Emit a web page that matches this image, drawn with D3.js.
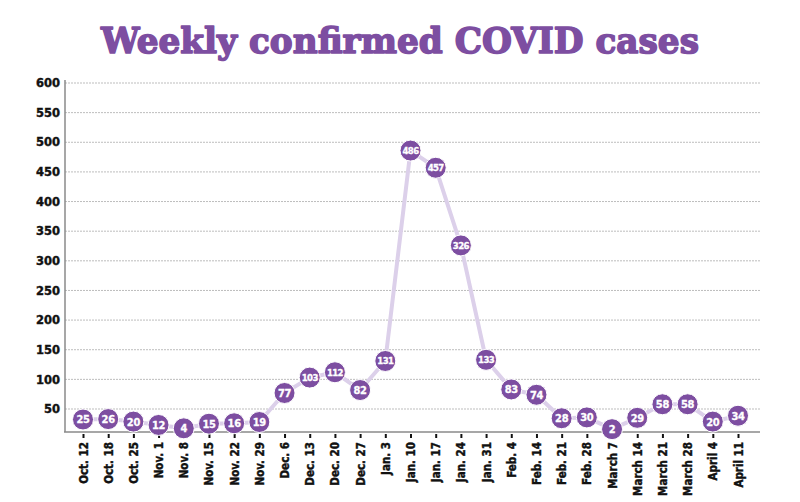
<!DOCTYPE html>
<html>
<head>
<meta charset="utf-8">
<script src="https://cdn.jsdelivr.net/npm/d3@7"></script>
<style>
  body { margin: 0; background: #fff; }
</style>
</head>
<body>
<script>
// chart data
const weeks = ["Oct. 12", "Oct. 18", "Oct. 25", "Nov. 1", "Nov. 8", "Nov. 15", "Nov. 22", "Nov. 29",
  "Dec. 6", "Dec. 13", "Dec. 20", "Dec. 27", "Jan. 3", "Jan. 10", "Jan. 17", "Jan. 24", "Jan. 31",
  "Feb. 4", "Feb. 14", "Feb. 21", "Feb. 28", "March 7", "March 14", "March 21", "March 28",
  "April 4", "April 11"]
const cases = [25, 26, 20, 12, 4, 15, 16, 19, 77, 103, 112, 82, 131, 486, 457, 326, 133,
  83, 74, 28, 30, 2, 29, 58, 58, 20, 34]
const yTicks = [50, 100, 150, 200, 250, 300, 350, 400, 450, 500, 550, 600]
const title = "Weekly confirmed COVID cases"

width = 800
height = 502
purple = "#7d4ea1"
narrow = "'DejaVu Sans Condensed', 'Liberation Sans Narrow', sans-serif"

svg = d3.select("body")
    .append("svg")
    .attr("width", width)
    .attr("height", height)

// title
svg.append("text")
    .attr("x", 400)
    .attr("y", 53)
    .attr("text-anchor", "middle")
    .attr("font-family", "'DejaVu Serif', serif")
    .attr("font-weight", "bold")
    .attr("font-size", 36)
    .attr("fill", purple)
    .attr("stroke", purple)
    .attr("stroke-width", 1.6)
    .attr("stroke-linejoin", "round")
    .attr("textLength", 598)
    .attr("lengthAdjust", "spacingAndGlyphs")
    .text(title)

// scales
let x = d3.scalePoint().domain(weeks).range([83, 738])
// the low end is squeezed a bit so the dots stay above the axis, like the original
let y = d3.scaleLinear().domain([0, 50, 600]).range([430, 409, 83])

// gridlines
svg.selectAll("line.grid")
    .data(yTicks)
    .enter()
    .append("line")
    .attr("class", "grid")
    .attr("x1", 65)
    .attr("x2", 760)
    .attr("y1", d => y(d))
    .attr("y2", d => y(d))
    .attr("stroke", "#bdbdbd")
    .attr("stroke-width", 1)
    .attr("stroke-dasharray", "2,1")

// y axis
let yAxis = svg.append("g")
    .attr("transform", "translate(65,0)")
    .call(d3.axisLeft(y).tickValues(yTicks).tickSize(0).tickPadding(5))
yAxis.select(".domain").remove()
yAxis.selectAll("text")
    .attr("font-family", "'DejaVu Sans', sans-serif")
    .attr("font-weight", "bold")
    .attr("font-size", 11.5)
    .attr("fill", "#111")
    .attr("stroke", "#111")
    .attr("stroke-width", 0.4)

svg.append("line")
    .attr("x1", 65).attr("x2", 65)
    .attr("y1", 80).attr("y2", 432)
    .attr("stroke", "#8a8a8a")
    .attr("stroke-width", 1.5)

// x axis
let xAxis = svg.append("g")
    .attr("transform", "translate(0,432)")
    .call(d3.axisBottom(x).tickSize(6).tickPadding(4))
xAxis.select(".domain").remove()
xAxis.selectAll(".tick line")
    .attr("stroke", "#111")
    .attr("stroke-width", 2)
    .attr("y1", 2)
xAxis.selectAll("text")
    .attr("transform", "rotate(-90)")
    .attr("x", -10)
    .attr("y", 0)
    .attr("dy", "0.35em")
    .attr("text-anchor", "end")
    .attr("font-family", narrow)
    .attr("font-weight", "bold")
    .attr("font-size", 11.5)
    .attr("fill", "#111")
    .attr("stroke", "#111")
    .attr("stroke-width", 0.4)

svg.append("line")
    .attr("x1", 64).attr("x2", 760)
    .attr("y1", 432).attr("y2", 432)
    .attr("stroke", "#8a8a8a")
    .attr("stroke-width", 1.5)

// line
let line = d3.line()
    .x((d, i) => x(weeks[i]))
    .y(d => y(d))

svg.append("path")
    .datum(cases)
    .attr("d", line)
    .attr("fill", "none")
    .attr("stroke", "#dcd0ea")
    .attr("stroke-width", 4)
    .attr("stroke-linejoin", "round")

// dots
let dots = svg.selectAll("g.dot")
    .data(cases)
    .enter()
    .append("g")
    .attr("class", "dot")
    .attr("transform", (d, i) => "translate(" + x(weeks[i]) + "," + y(d) + ")")

dots.append("circle")
    .attr("r", 10.5)
    .attr("fill", purple)
    .attr("stroke", "#fff")
    .attr("stroke-width", 1)

dots.append("text")
    .attr("text-anchor", "middle")
    .attr("dy", "0.36em")
    .attr("font-family", narrow)
    .attr("font-weight", "bold")
    .attr("font-size", d => d >= 100 ? 9.5 : 11)
    .attr("letter-spacing", d => d >= 100 ? -0.6 : -0.3)
    .attr("fill", "#fff")
    .attr("stroke", "#fff")
    .attr("stroke-width", 0.3)
    .text(d => d)
</script>
</body>
</html>
